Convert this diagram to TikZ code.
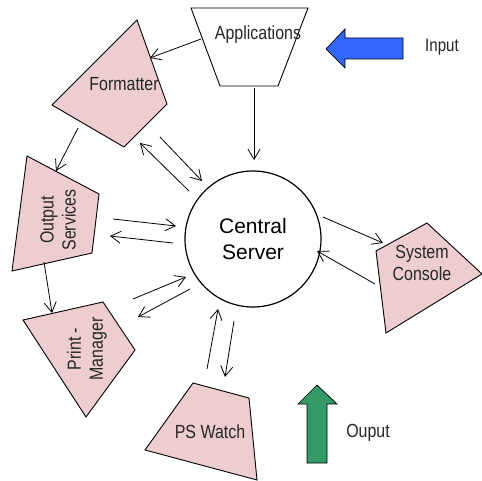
\documentclass[tikz,border=0pt]{standalone}
\usepackage{fontspec}
\setmainfont{Liberation Sans}
\newfontfamily\narrowfont{Liberation Sans}[FakeStretch=0.84]
\usetikzlibrary{arrows.meta}
\definecolor{shapepink}{RGB}{237,205,207}
\definecolor{inblue}{RGB}{51,102,255}
\definecolor{outgreen}{RGB}{51,153,102}
\tikzset{
  blockshape/.style={draw=black, fill=shapepink, line width=0.9pt, line join=miter},
  appshape/.style={draw=black, fill=white, line width=0.9pt},
  lbl/.style={font=\narrowfont\fontsize{19}{22}\selectfont, align=center, inner sep=0pt, text=black!85},
  conn/.style={draw=black, line width=0.8pt, -{Straight Barb[length=10pt,width=12pt]}},
  bigarrow/.style={draw=black, line width=0.7pt}
}
\begin{document}
\begin{tikzpicture}[x=1pt,y=-1pt]
\useasboundingbox[fill=white] (0,0) rectangle (482,481);
% shapes
\draw[appshape] (191,8) -- (308,8) -- (278,86) -- (220,86) -- cycle;
\draw[blockshape] (137,20) -- (167,104) -- (124,147) -- (52,105) -- cycle;
\draw[blockshape] (27,156) -- (99,194) -- (92,253) -- (12,271) -- cycle;
\draw[blockshape] (23,320) -- (103,302) -- (135,350) -- (86,417) -- cycle;
\draw[blockshape] (193,383) -- (249,398) -- (257,480) -- (145,450) -- cycle;
\draw[blockshape] (376,251) -- (427,223) -- (482,274) -- (386,333) -- cycle;
\node[circle, draw=black, line width=1.2pt, minimum size=136pt, inner sep=0pt,
      align=center, font=\fontsize{21}{26}\selectfont] (cs) at (253,239) {Central\\Server};
% labels
\node[lbl] (app) at (258,35) {Applications};
\node[lbl] (fmt) at (124,84) {Formatter};
\node[lbl, rotate=90] (outs) at (58,220) {Output\\Services};
\node[lbl, rotate=90] (pm) at (87,349) {Print -\\Manager};
\node[lbl] (psw) at (210,432) {PS Watch};
\node[lbl] (sc) at (422,263) {System\\Console};
\node[lbl, font=\narrowfont\fontsize{18}{22}\selectfont] (inp) at (442,47) {Input};
\node[lbl] (outp) at (368,433) {Ouput};
% big arrows
\draw[bigarrow, fill=inblue] (326,49) -- (345,29) -- (345,38) -- (403,38) -- (403,59) -- (345,59) -- (345,68) -- cycle;
\draw[bigarrow, fill=outgreen] (317,385) -- (337,404) -- (327,404) -- (327,463) -- (307,463) -- (307,404) -- (298,404) -- cycle;
% connector ends
\coordinate (a1) at (201,39); \coordinate (a2) at (150,58);
\coordinate (b1) at (78,128); \coordinate (b2) at (56,171);
\coordinate (c1) at (44,262); \coordinate (c2) at (52,313);
\coordinate (d1) at (254,88); \coordinate (d2) at (254,160);
\coordinate (e1) at (160,137); \coordinate (e2) at (202,181);
\coordinate (e3) at (189,191); \coordinate (e4) at (140,143);
\coordinate (f1) at (113,219); \coordinate (f2) at (176,226);
\coordinate (f3) at (173,243); \coordinate (f4) at (110,236);
\coordinate (g1) at (133,299); \coordinate (g2) at (186,277);
\coordinate (g3) at (190,289); \coordinate (g4) at (138,317);
\coordinate (h1) at (207,369); \coordinate (h2) at (218,309);
\coordinate (h3) at (234,321); \coordinate (h4) at (225,377);
\coordinate (k1) at (323,217); \coordinate (k2) at (383,243);
\coordinate (k3) at (375,284); \coordinate (k4) at (317,251);
% connectors
\draw[conn] (a1) -- (a2);
\draw[conn] (b1) -- (b2);
\draw[conn] (c1) -- (c2);
\draw[conn] (d1) -- (d2);
\draw[conn] (e1) -- (e2);
\draw[conn] (e3) -- (e4);
\draw[conn] (f1) -- (f2);
\draw[conn] (f3) -- (f4);
\draw[conn] (g1) -- (g2);
\draw[conn] (g3) -- (g4);
\draw[conn] (h1) -- (h2);
\draw[conn] (h3) -- (h4);
\draw[conn] (k1) -- (k2);
\draw[conn] (k3) -- (k4);
\end{tikzpicture}
\end{document}
